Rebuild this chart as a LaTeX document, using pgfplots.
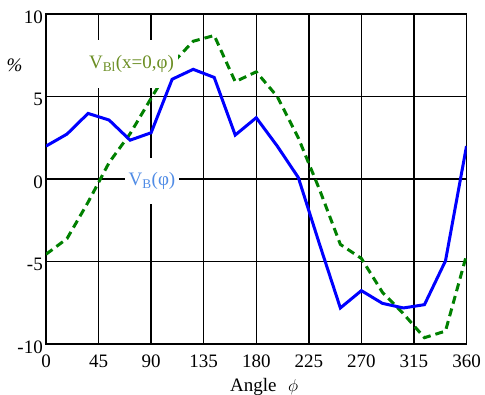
\documentclass[border=0pt]{standalone}
\usepackage{pgfplots}
\pgfplotsset{compat=1.18}
\usepackage{fontspec}
\setmainfont{Liberation Serif}
\definecolor{vblue}{RGB}{0,0,255}
\definecolor{vgreen}{RGB}{0,128,0}
\definecolor{lblgreen}{RGB}{107,142,35}
\definecolor{lblblue}{RGB}{80,140,230}
\begin{document}
\begin{tikzpicture}
\begin{axis}[name=ax, scale only axis, width=420.5pt, height=330.3pt,
  xmin=0, xmax=360, ymin=-10, ymax=10,
  xtick={0,45,90,135,180,225,270,315,360},
  ytick={-10,-5,0,5,10},
  xticklabels={0,45,90,135,180,225,270,315,360},
  yticklabels={-10,-5,0,5,10},
  grid=major, major grid style={black, line width=1.5pt},
  axis line style={black, line width=1.8pt},
  major tick length=0pt,
  tick label style={font=\fontsize{19}{22}\selectfont},
  yticklabel style={anchor=east, inner sep=0pt, xshift=-3pt, yshift=-3pt},
  xticklabel style={anchor=north, inner sep=0pt, yshift=-10.5pt},
  xlabel={Angle\hspace{0.6em}$\phi$},
  xlabel style={at={(axis description cs:0.4376,0)}, anchor=base west, inner sep=0pt, yshift=-46.7pt, font=\fontsize{19}{22}\selectfont},
  ylabel={\textit{\%}},
  ylabel style={at={(axis description cs:-0.0749,0.844)}, rotate=-90, anchor=center, inner sep=0pt, font=\fontsize{19}{22}\selectfont},
]
\addplot[vgreen, line width=3pt, dash pattern=on 8pt off 5pt] coordinates {
(0,-4.55) (18,-3.6) (36,-1.4) (54,1.0) (72,2.75) (90,4.9) (108,7.0) (126,8.35) (144,8.7)
(162,5.9) (180,6.5) (198,5.0) (216,2.5) (234,-0.6) (252,-3.95) (270,-4.8) (288,-6.85)
(306,-8.15) (324,-9.6) (342,-9.2) (360,-4.6)};
\node[fill=white, inner sep=0pt, minimum width=93pt, minimum height=48pt, text=lblgreen, font=\fontsize{19}{22}\selectfont] at (rel axis cs:0.2033,0.8486) {V\textsubscript{Bl}(x=0,φ)};
\node[fill=white, inner sep=0pt, minimum width=54pt, minimum height=46pt, text=lblblue, font=\fontsize{19}{22}\selectfont] at (rel axis cs:0.252,0.494) {V\textsubscript{B}(φ)};
\addplot[vblue, line width=3pt] coordinates {
(0,2.0) (18,2.73) (36,3.98) (54,3.58) (72,2.36) (90,2.81) (108,6.05) (126,6.65) (144,6.16)
(162,2.67) (180,3.72) (198,2.0) (216,0.1) (234,-3.9) (252,-7.8) (270,-6.75) (288,-7.52)
(306,-7.8) (324,-7.6) (342,-4.95) (360,2.0)};
\end{axis}
\pgfresetboundingbox
\path[use as bounding box] ([xshift=-46pt,yshift=-49.7pt]ax.south west) rectangle ([xshift=18.5pt,yshift=14pt]ax.north east);
\end{tikzpicture}
\end{document}
